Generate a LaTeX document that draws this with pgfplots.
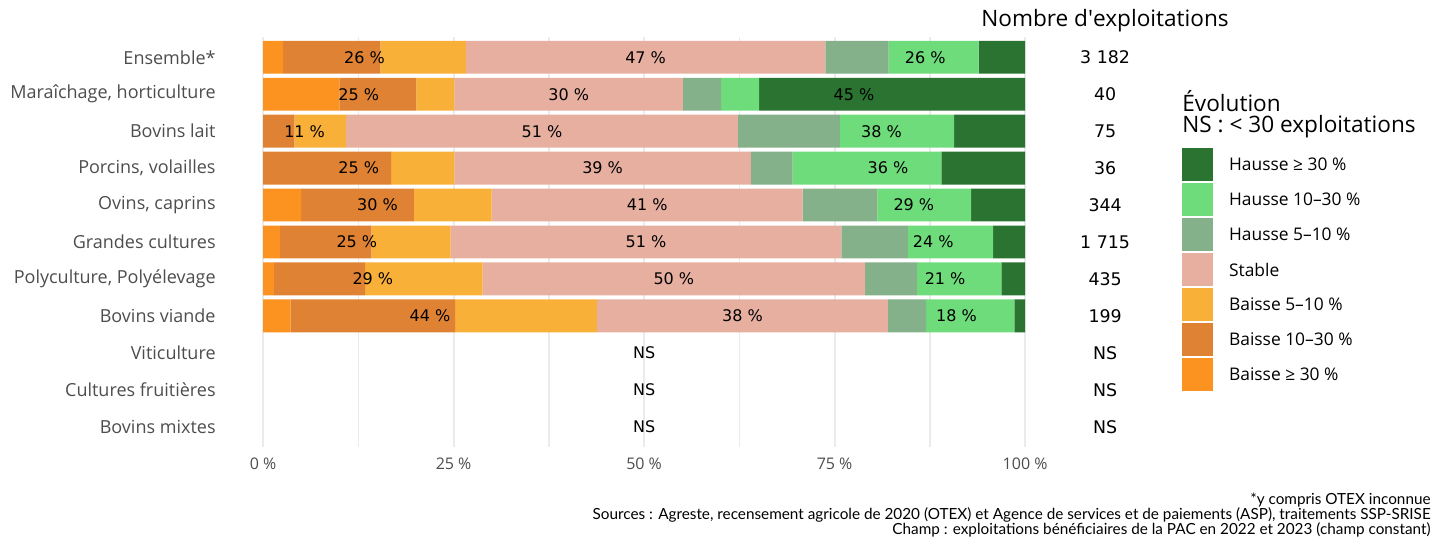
\documentclass[border=0pt]{standalone}
\usepackage{pgfplots}
\pgfplotsset{compat=1.18}
\usepackage{fontspec}
\setmainfont{Open Sans}
\newfontfamily\dejavu{DejaVu Sans}
\newfontfamily\lato{Lato}

\definecolor{bfort}{HTML}{FC9220}
\definecolor{bmoy}{HTML}{E08234}
\definecolor{bfaible}{HTML}{F9B038}
\definecolor{stable}{HTML}{E6AFA0}
\definecolor{hfaible}{HTML}{84B08A}
\definecolor{hmoy}{HTML}{6EDC7B}
\definecolor{hfort}{HTML}{2A7330}
\definecolor{gridc}{HTML}{EBEBEB}
\definecolor{labc}{HTML}{4D4D4D}

% 1 px de l'image de reference = 0.5pt
\pgfplotsset{
  base/.style={
    at={(112.5pt,46.5pt)}, anchor=south west,
    scale only axis, width=419.1pt, height=205pt,
    xmin=-5, xmax=105, ymin=0.45, ymax=11.55,
    y dir=reverse, clip=false,
  },
}

\begin{document}
\begin{tikzpicture}
\path[use as bounding box] (0,0) rectangle (719.5pt,270pt);

\begin{axis}[
  base,
  axis line style={draw=none},
  xbar stacked, bar width=0.89, bar shift=0pt,
  xtick={0,25,50,75,100},
  xticklabels={0~\%,25~\%,50~\%,75~\%,100~\%},
  minor xtick={12.5,37.5,62.5,87.5},
  xmajorgrids, xminorgrids,
  major grid style={gridc, line width=1pt},
  minor grid style={gridc, line width=0.8pt},
  tick style={draw=none},
  xticklabel style={font=\fontsize{8}{9}\selectfont, text=labc, yshift=-2pt},
  ytick={1,...,11},
  yticklabels={Ensemble*, {Maraîchage, horticulture}, Bovins lait, {Porcins, volailles},
    {Ovins, caprins}, Grandes cultures, {Polyculture, Polyélevage}, Bovins viande,
    Viticulture, Cultures fruitières, Bovins mixtes},
  yticklabel style={font=\fontsize{9}{10}\selectfont, text=labc, inner xsep=4.5pt},
  legend style={at={(1.1418,0.729)}, anchor=north west, draw=none, fill=none,
    inner sep=0pt, outer sep=0pt,
    font=\fontsize{8.7}{9}\selectfont, row sep=1pt,
    nodes={inner sep=0pt, text depth=0pt}},
  legend cell align=left,
  legend image code/.code={\fill[#1] (0pt,-8.25pt) rectangle (15.5pt,8.25pt);
    \path (23.5pt,0pt);},
  reverse legend,
]
\addplot[fill=bfort, draw=none] coordinates {(2.6,1) (10.0,2) (0,3) (0,4) (5.0,5) (2.2,6) (1.4,7) (3.6,8)};
\addlegendentry{Baisse ≥ 30~\%}
\addplot[fill=bmoy, draw=none] coordinates {(12.8,1) (10.1,2) (4.1,3) (16.8,4) (14.8,5) (12.0,6) (12.0,7) (21.6,8)};
\addlegendentry{Baisse 10–30~\%}
\addplot[fill=bfaible, draw=none] coordinates {(11.2,1) (5.0,2) (6.8,3) (8.3,4) (10.2,5) (10.4,6) (15.4,7) (18.6,8)};
\addlegendentry{Baisse 5–10~\%}
\addplot[fill=stable, draw=none] coordinates {(47.2,1) (30.0,2) (51.4,3) (38.9,4) (40.8,5) (51.3,6) (50.2,7) (38.2,8)};
\addlegendentry{Stable}
\addplot[fill=hfaible, draw=none] coordinates {(8.3,1) (5.0,2) (13.4,3) (5.5,4) (9.8,5) (8.7,6) (6.8,7) (5.0,8)};
\addlegendentry{Hausse 5–10~\%}
\addplot[fill=hmoy, draw=none] coordinates {(11.8,1) (5.0,2) (15.0,3) (19.5,4) (12.3,5) (11.2,6) (11.1,7) (11.6,8)};
\addlegendentry{Hausse 10–30~\%}
\addplot[fill=hfort, draw=none] coordinates {(6.1,1) (34.9,2) (9.3,3) (11.0,4) (7.1,5) (4.2,6) (3.1,7) (1.4,8)};
\addlegendentry{Hausse ≥ 30~\%}
\end{axis}

% etiquettes des barres et effectifs
\begin{axis}[base, axis lines=none]
\addplot[only marks, mark=none, point meta=explicit symbolic,
  nodes near coords={\pgfplotspointmeta~\%},
  nodes near coords style={font=\dejavu\fontsize{8}{9}\selectfont, anchor=center, text=black}]
coordinates {
  (13.3,1) [26] (50.2,1) [47] (86.9,1) [26]
  (12.55,2) [25] (40.1,2) [30] (77.55,2) [45]
  (5.45,3) [11] (36.6,3) [51] (81.15,3) [38]
  (12.55,4) [25] (44.55,4) [39] (82.0,4) [36]
  (15.0,5) [30] (50.4,5) [41] (85.4,5) [29]
  (12.3,6) [25] (50.25,6) [51] (87.95,6) [24]
  (14.4,7) [29] (53.9,7) [50] (89.5,7) [21]
  (21.9,8) [44] (62.9,8) [38] (91.0,8) [18]
};
\addplot[only marks, mark=none, point meta=explicit symbolic,
  nodes near coords,
  nodes near coords style={font=\dejavu\fontsize{8}{9}\selectfont, anchor=center, text=black}]
coordinates {(50,9) [NS] (50,10) [NS] (50,11) [NS]};
\addplot[only marks, mark=none, point meta=explicit symbolic,
  nodes near coords,
  nodes near coords style={font=\dejavu\fontsize{8.7}{10}\selectfont, anchor=center, text=black}]
coordinates {
  (110.5,1) [3~182] (110.5,2) [40] (110.5,3) [75] (110.5,4) [36]
  (110.5,5) [344] (110.5,6) [1~715] (110.5,7) [435] (110.5,8) [199]
  (110.5,9) [NS] (110.5,10) [NS] (110.5,11) [NS]
};
\end{axis}

\node[anchor=center, font=\fontsize{11.3}{12}\selectfont] at (552.5pt,259.5pt) {Nombre d\textquotesingle exploitations};
\node[anchor=west, inner sep=0pt, font=\fontsize{11.3}{12}\selectfont] at (591pt,219.5pt) {Évolution};
\node[anchor=west, inner sep=0pt, font=\fontsize{11.3}{12}\selectfont] at (591pt,206.5pt) {NS : < 30 exploitations};
\node[anchor=north east, inner sep=0pt, align=right, font=\lato\fontsize{7.65}{7.5}\selectfont]
  at (715.5pt,23.5pt) {*y compris OTEX inconnue\\
  Sources : Agreste, recensement agricole de 2020 (OTEX) et Agence de services et de paiements (ASP), traitements SSP-SRISE\\
  Champ : exploitations bénéficiaires de la PAC en 2022 et 2023 (champ constant)};
\end{tikzpicture}
\end{document}
